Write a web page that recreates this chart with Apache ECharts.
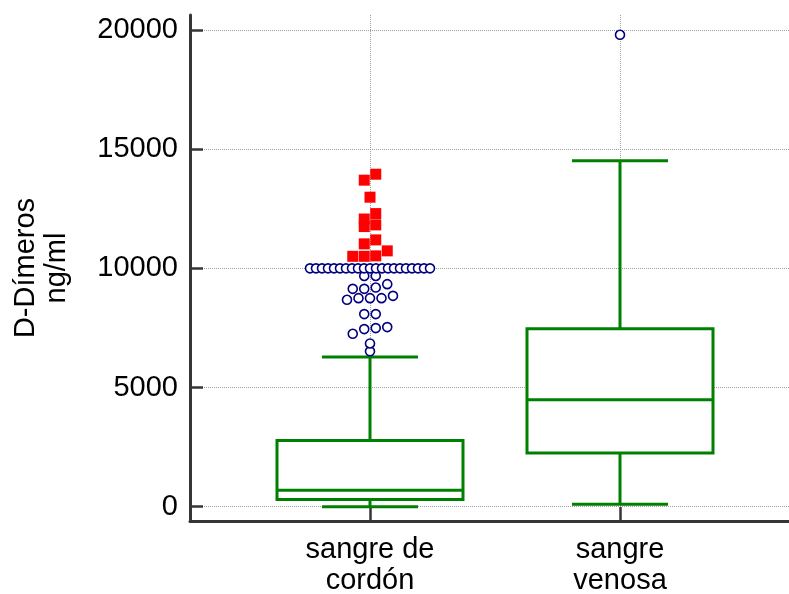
<!DOCTYPE html>
<html>
<head>
<meta charset="utf-8">
<script src="https://cdn.jsdelivr.net/npm/echarts@6/dist/echarts.min.js"></script>
<style>
html, body { margin: 0; padding: 0; background: #fff; }
#chart { width: 789px; height: 594px; }
</style>
</head>
<body>
<div id="chart"></div>
<script>
// categorias del eje x
var categories = ['sangre de\ncordón', 'sangre\nvenosa'];
// resumen de cada caja: minimo, Q1, mediana, Q3, maximo (bigotes)
var boxLow = [0, 100];
var boxQ1 = [300, 2250];
var boxMedian = [690, 4490];
var boxQ3 = [2780, 7470];
var boxHigh = [6280, 14510];
// valores atipicos (circulos) y muy atipicos (cuadrados rojos)
var cordonOutside = [6520, 6850, 7254, 7451, 7493, 7535, 8080, 8080, 8680, 8750, 8750, 8750, 8847,
	9141, 9141, 9196, 9338, 9680, 9680,
	10000, 10000, 10000, 10000, 10000, 10000, 10000, 10000, 10000, 10000, 10000,
	10000, 10000, 10000, 10000, 10000, 10000, 10000, 10000, 10000, 10000];
var cordonFarOut = [10505, 10505, 10524, 10734, 11028, 11195, 11753, 11824, 12070, 12298, 12986, 13700, 13950];
var venosaOutside = [19800];
var yTicks = [0, 5000, 10000, 15000, 20000];

var FONT = 'Liberation Sans, Arial, sans-serif';
var GREEN = '#008000';
var AXIS = '#363636';

/**
 * @desc reparte horizontalmente los puntos con valores parecidos (diagrama de puntos)
 */
var swarm = function(xPos, values) {
	var sorted = values.slice().sort(function(a, b) {
		return a - b;
	});
	var out = [], bin = [], start = null;
	var flush = function() {
		var n = bin.length;
		var step = n > 1 ? Math.min(11.5, 120 / (n - 1)) : 0;
		for(var i = 0; i < n; i++) {
			out.push({
				value: [xPos, bin[i]],
				symbolOffset: [(i - (n - 1) / 2) * step, 0]
			});
		}
		bin = [];
	};
	for(var i = 0; i < sorted.length; i++) {
		if(start === null || sorted[i] - start >= 300) {
			if(bin.length) flush();
			start = sorted[i];
		}
		bin.push(sorted[i]);
	}
	if(bin.length) flush();
	return out;
};

var boxData = [];
for(var i = 0; i < categories.length; i++) {
	boxData.push([i + 1, boxLow[i], boxQ1[i], boxMedian[i], boxQ3[i], boxHigh[i]]);
}

var renderBox = function(params, api) {
	var x = api.value(0);
	var unit = api.size([1, 0])[0];
	var bw = unit * 0.372,
		cw = unit * 0.192;
	var lo = api.coord([x, api.value(1)]),
		q1 = api.coord([x, api.value(2)]),
		md = api.coord([x, api.value(3)]),
		q3 = api.coord([x, api.value(4)]),
		hi = api.coord([x, api.value(5)]);
	var cx = lo[0];
	var st = { stroke: GREEN, lineWidth: 3, fill: null };
	return {
		type: 'group',
		children: [
			{ type: 'line', shape: { x1: cx, y1: lo[1], x2: cx, y2: q1[1] }, style: st },
			{ type: 'line', shape: { x1: cx, y1: q3[1], x2: cx, y2: hi[1] }, style: st },
			{ type: 'line', shape: { x1: cx - cw, y1: lo[1], x2: cx + cw, y2: lo[1] }, style: st },
			{ type: 'line', shape: { x1: cx - cw, y1: hi[1], x2: cx + cw, y2: hi[1] }, style: st },
			{ type: 'rect', shape: { x: cx - bw, y: q3[1], width: 2 * bw, height: q1[1] - q3[1] },
				style: { stroke: GREEN, lineWidth: 3, fill: '#fff' } },
			{ type: 'line', shape: { x1: cx - bw, y1: md[1], x2: cx + bw, y2: md[1] }, style: st }
		]
	};
};

var chart = echarts.init(document.getElementById('chart'));
chart.setOption({
	animation: false,
	backgroundColor: '#fff',
	textStyle: { fontFamily: FONT },
	grid: { left: 190, top: 15, right: 0, bottom: 73, containLabel: false, outerBoundsMode: 'none' },
	xAxis: {
		type: 'value',
		min: 0.28,
		max: 2.676,
		axisLine: { show: true, onZero: false, lineStyle: { color: AXIS, width: 3 } },
		axisTick: { show: true, inside: true, length: 14, customValues: [1, 2], lineStyle: { color: AXIS, width: 2.5 } },
		axisLabel: {
			customValues: [1, 2],
			margin: 13,
			fontSize: 29,
			lineHeight: 31,
			color: '#000',
			fontFamily: FONT,
			formatter: function(v) {
				return categories[Math.round(v) - 1] || '';
			}
		},
		splitLine: { show: true, lineStyle: { color: '#a0a0a0', type: 'dotted', width: 1 } }
	},
	yAxis: {
		type: 'value',
		min: -600,
		max: 20630,
		name: 'D-Dímeros\nng/ml',
		nameLocation: 'middle',
		nameRotate: 90,
		nameGap: 118,
		nameTextStyle: { fontSize: 29, lineHeight: 31, color: '#000', fontFamily: FONT },
		axisLine: { show: true, onZero: false, lineStyle: { color: AXIS, width: 3 } },
		axisTick: { show: true, inside: true, length: 13, customValues: yTicks, lineStyle: { color: AXIS, width: 2.5 } },
		axisLabel: {
			customValues: yTicks,
			margin: 12,
			fontSize: 29,
			color: '#000',
			fontFamily: FONT,
			formatter: function(v) {
				return String(v);
			}
		},
		splitLine: { show: true, lineStyle: { color: '#a0a0a0', type: 'dotted', width: 1 } }
	},
	series: [{
		type: 'custom',
		renderItem: renderBox,
		encode: { x: 0, y: [1, 2, 3, 4, 5] },
		data: boxData,
		z: 2
	}, {
		type: 'scatter',
		symbol: 'circle',
		symbolSize: 9,
		itemStyle: { color: '#fff', borderColor: '#000080', borderWidth: 1.6, opacity: 1 },
		data: swarm(1, cordonOutside).concat(swarm(2, venosaOutside)),
		z: 3
	}, {
		type: 'scatter',
		symbol: 'rect',
		symbolSize: 11,
		itemStyle: { color: '#ff0000', opacity: 1 },
		data: swarm(1, cordonFarOut),
		z: 4
	}]
});
</script>
</body>
</html>
